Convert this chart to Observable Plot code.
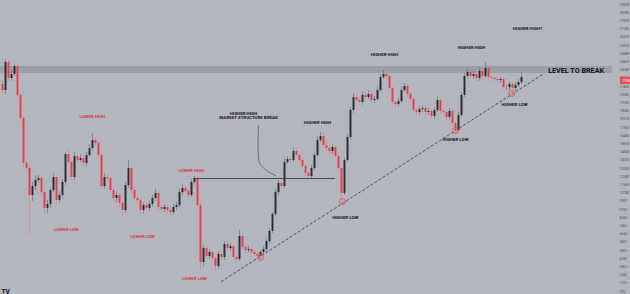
<!DOCTYPE html>
<html>
<head>
<meta charset="utf-8">
<script src="https://cdn.jsdelivr.net/npm/d3@7"></script>
<script src="https://cdn.jsdelivr.net/npm/@observablehq/plot@0.6"></script>
<style>
  html, body { margin: 0; padding: 0; background: #b3b6bd; overflow: hidden; }
  #chart { width: 630px; height: 294px; }
</style>
</head>
<body>
<div id="chart"></div>
<script>
// ---- Candle data (price in chart units; tick labels = value x 100) ----
const firstOpen = 216;
const closes = [
  210,238,222,226,234,205,182,137,132,105,
  114,120,122,108,92,96,110,123,100,105,
  118,146,138,123,144,140,142,137,145,152,
  160,157,145,114,123,122,110,102,105,97,
  90,115,132,110,102,100,90,95,92,96,
  102,107,93,91,93,90,88,93,95,108,
  112,109,105,118,122,95,38,52,44,48,
  42,34,46,43,56,52,54,43,41,64,
  53,50,51,48,46,44,48,51,59,69,
  86,108,117,114,138,141,140,149,145,140,
  134,127,124,132,145,160,164,155,152,149,
  153,144,132,107,140,163,190,203,200,198,
  205,203,206,200,201,210,223,226,224,212,
  198,196,199,210,214,206,201,190,188,191,
  192,188,189,184,190,200,189,188,183,189,
  177,170,185,205,224,228,224,226,222,229,
  224,232,223,222,221,220,221,213,213,216,
  212,215,218,223
];
const highWick = [
  3,3,2,4,2,2,2,3,4,3, 4,5,3,3,2,4,3,4,3,4,
  3,2,5,3,4,3,4,3,3,4, 7,3,2,4,4,3,3,2,4,2,
  3,3,8,2,3,2,3,3,2,3, 3,4,2,2,3,2,2,3,3,3,
  4,2,2,3,2,2,2,3,2,3, 2,2,3,2,3,2,3,2,2,6,
  2,2,3,2,2,2,2,3,2,3, 2,3,3,2,4,3,2,4,3,2,
  2,2,2,3,2,3,4,3,2,3, 3,2,2,2,2,3,3,4,3,3,
  4,3,4,3,3,3,3,4,3,2, 2,2,3,3,3,2,2,2,3,3,
  3,2,3,2,3,4,2,2,2,3, 2,2,3,3,3,3,3,3,3,3,
  3,6,2,2,2,2,2,2,2,3, 2,3,3,5
];
const lowWick = [
  3,4,3,3,2,3,3,4,3,40, 6,4,3,3,7,5,3,2,4,3,
  3,3,2,4,3,3,2,3,3,2, 2,3,3,3,3,3,2,3,4,4,
  8,3,3,4,3,4,5,4,3,3, 3,3,4,3,3,4,4,3,3,2,
  3,3,3,2,3,3,8,4,3,3, 3,4,3,3,3,3,3,3,3,2,
  3,3,2,2,2,3,3,2,2,2, 2,2,3,3,2,2,3,2,3,2,
  3,3,3,2,2,2,2,3,3,3, 3,3,3,5,2,2,2,3,3,3,
  3,3,2,3,3,2,2,2,3,3, 3,3,2,2,2,3,3,3,3,3,
  3,3,3,3,3,2,3,3,3,3, 3,3,2,2,2,2,3,3,3,3,
  3,2,3,3,3,3,3,3,3,3, 7,3,2,2
];

// ---- Annotations ----
const levelBand = [{x1: -0.7, x2: 203.3, y1: 227, y2: 234}];
const structureLine = [{x1: 63.7, x2: 111, y: 122}];
const trendLine = [{x: 73, y: 19}, {x: 180, y: 226}];
const pointerCurve = [{x: 85.3, y: 175}, {x: 85.3, y: 145}, {x: 85.8, y: 137}, {x: 88, y: 130}, {x: 91, y: 125}];
const touchCircles = [{x: 86, y: 43}, {x: 113.3, y: 99}, {x: 151, y: 170}, {x: 169.7, y: 207}];
const redLabels = [
  {t: "LOWER HIGH", x: 30, y: 184},
  {t: "LOWER LOW", x: 21.3, y: 71},
  {t: "LOWER LOW", x: 46.7, y: 64},
  {t: "LOWER HIGH", x: 63, y: 130},
  {t: "LOWER LOW", x: 64, y: 22}
];
const blackLabels = [
  {t: "HIGHER HIGH", x: 80.3, y: 187},
  {t: "MARKET STRUCTURE BREAK", x: 82, y: 182.5},
  {t: "HIGHER HIGH", x: 105, y: 178},
  {t: "HIGHER LOW", x: 114.3, y: 83},
  {t: "HIGHER HIGH", x: 127.3, y: 246},
  {t: "HIGHER HIGH", x: 156.3, y: 253},
  {t: "HIGHER LOW", x: 151, y: 161},
  {t: "HIGHER LOW", x: 170.7, y: 196},
  {t: "HIGHER HIGH?", x: 175, y: 272}
];
const levelLabel = [{t: "LEVEL TO BREAK", x: 191.2, y: 230}];
const priceTicks = d3.range(0, 36).map(k => 296 - 8.2 * k).filter(v => v > 8);
const priceTag = [{x1: 206, x2: 210, y1: 216, y2: 223, t: "21950"}];

const candles = closes.map((c, i) => {
  const o = i === 0 ? firstOpen : closes[i - 1];
  return {i, o, c, h: Math.max(o, c) + highWick[i], l: Math.min(o, c) - lowWick[i]};
});

const bull = "#2a2c33", bear = "#ee3b47";
const bullWick = "rgba(80,84,94,0.55)", bearWick = "rgba(225,120,130,0.6)";

const chart = Plot.plot({
  width: 630,
  height: 294,
  marginTop: 0, marginBottom: 0, marginLeft: 0, marginRight: 14,
  style: {background: "#b3b6bd", fontFamily: "Roboto, 'Liberation Sans', sans-serif", overflow: "visible"},
  x: {domain: [-2 / 3, 614 / 3], axis: null},
  y: {domain: [6, 300], axis: null},
  marks: [
    Plot.rect(levelBand, {x1: "x1", x2: "x2", y1: "y1", y2: "y2", fill: "#9c9ea6"}),
    Plot.ruleX(candles, {x: "i", y1: "l", y2: "h", stroke: d => d.c >= d.o ? bullWick : bearWick, strokeWidth: 0.9}),
    Plot.ruleX(candles, {x: "i", y1: "o", y2: "c", stroke: d => d.c >= d.o ? bull : bear, strokeWidth: 1.9}),
    Plot.ruleY(structureLine, {x1: "x1", x2: "x2", y: "y", stroke: "#3d3f46", strokeWidth: 0.9}),
    Plot.line(trendLine, {x: "x", y: "y", stroke: "#34363d", strokeWidth: 0.8, strokeDasharray: "2.2,2.6"}),
    Plot.line(pointerCurve, {x: "x", y: "y", stroke: "#4a4c53", strokeWidth: 0.7, curve: "catmull-rom"}),
    Plot.dot(touchCircles, {x: "x", y: "y", r: 3, stroke: "#e8404c", strokeWidth: 0.7, fill: "#e88890", fillOpacity: 0.35}),
    Plot.text(redLabels, {x: "x", y: "y", text: "t", fill: "#d8404a", fontSize: 4.4, fontWeight: "bold", letterSpacing: "0.2px"}),
    Plot.text(blackLabels, {x: "x", y: "y", text: "t", fill: "#17181c", fontSize: 4.4, fontWeight: "bold", letterSpacing: "0.2px"}),
    Plot.text(levelLabel, {x: "x", y: "y", text: "t", fill: "#111216", fontSize: 7.2, fontWeight: "bold", letterSpacing: "0.3px"}),
    Plot.axisY(priceTicks, {anchor: "right", tickSize: 0, tickPadding: 3, fontSize: 3.4, fill: "#4e525b", tickFormat: d => (d * 100).toFixed(0)}),
    Plot.rect(priceTag, {x1: "x1", x2: "x2", y1: "y1", y2: "y2", fill: "#ef4a4f"}),
    Plot.text(priceTag, {x: d => (d.x1 + d.x2) / 2, y: d => (d.y1 + d.y2) / 2, text: "t", fill: "#ffffff", fontSize: 3.2, textAnchor: "middle"}),
    Plot.text(["TV"], {frameAnchor: "bottom-left", dx: 1, dy: -1, text: d => d, fill: "#111", fontSize: 6.5, fontWeight: "bold"})
  ]
});
document.getElementById("chart").appendChild(chart);
</script>
</body>
</html>
